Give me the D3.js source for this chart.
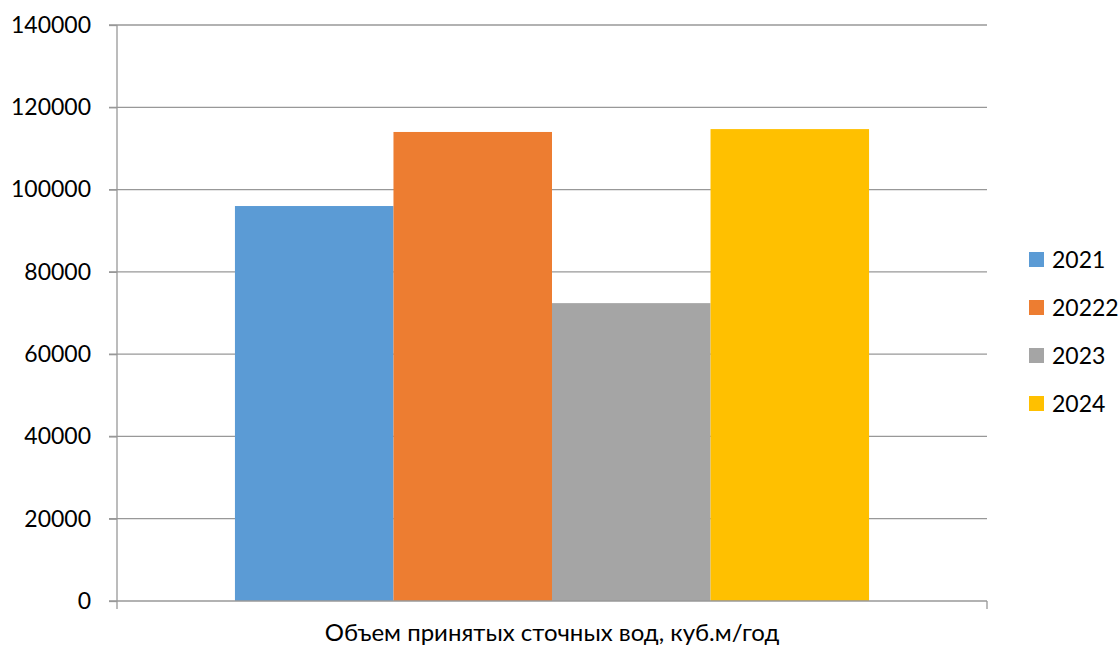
<!DOCTYPE html>
<html>
<head>
<meta charset="utf-8">
<script src="https://cdn.jsdelivr.net/npm/d3@7"></script>
<style>
  html, body { margin: 0; padding: 0; background: #fff; }
  svg { display: block; }
  text { font-family: Lato, "Open Sans", sans-serif; fill: #000; }
</style>
</head>
<body>
<svg id="chart" width="1119" height="646"></svg>
<script>
// Wastewater volume accepted per year
const categories = ["Объем принятых сточных вод, куб.м/год"];
const seriesNames = ["2021", "20222", "2023", "2024"];
const seriesValues = [96000, 114000, 72400, 114700];
const seriesColors = ["#5b9bd5", "#ed7d31", "#a5a5a5", "#ffc000"];
const yTicks = [0, 20000, 40000, 60000, 80000, 100000, 120000, 140000];

const svg = d3.select("#chart");
const plot = { left: 117, right: 987, top: 25, bottom: 601 };

const y = d3.scaleLinear().domain([0, 140000]).range([plot.bottom, plot.top]);
const x0 = d3.scaleBand().domain(categories).range([plot.left, plot.right])
  .paddingInner(0).paddingOuter(0.186);
const x1 = d3.scaleBand().domain(seriesNames).range([0, x0.bandwidth()]).padding(0);
const color = d3.scaleOrdinal().domain(seriesNames).range(seriesColors);

// horizontal gridlines
svg.append("g").selectAll("line").data(yTicks.filter(d => d > 0)).join("line")
  .attr("x1", plot.left - 8).attr("x2", plot.right)
  .attr("y1", d => y(d)).attr("y2", d => y(d))
  .attr("stroke", "#989898").attr("stroke-width", 1.3);

// bars
const rows = seriesNames.map((s, i) => ({ cat: categories[0], name: s, value: seriesValues[i] }));
svg.append("g").selectAll("rect").data(rows).join("rect")
  .attr("x", d => x0(d.cat) + x1(d.name))
  .attr("width", x1.bandwidth())
  .attr("y", d => y(d.value))
  .attr("height", d => y(0) - y(d.value))
  .attr("fill", d => color(d.name));

// y axis
const yAxis = d3.axisLeft(y).tickValues(yTicks).tickSize(8).tickPadding(18).tickFormat(d3.format("d"));
const gy = svg.append("g").attr("transform", `translate(${plot.left},0)`).call(yAxis);
gy.select(".domain").attr("stroke", "#989898").attr("stroke-width", 1.3)
  .attr("d", `M0,${plot.top}V${plot.bottom}`);
gy.selectAll(".tick line").attr("stroke", "#989898").attr("stroke-width", 1.3);
gy.selectAll(".tick text").attr("font-size", 23).attr("font-family", "Lato, sans-serif").attr("fill", "#000");

// x axis
const gx = svg.append("g").attr("transform", `translate(0,${plot.bottom})`);
gx.append("line").attr("x1", plot.left - 8).attr("x2", plot.right)
  .attr("stroke", "#989898").attr("stroke-width", 1.3);
gx.selectAll(".xt").data([plot.left, plot.right]).join("line").attr("class", "xt")
  .attr("x1", d => d).attr("x2", d => d).attr("y1", 0).attr("y2", 8)
  .attr("stroke", "#989898").attr("stroke-width", 1.3);
gx.selectAll(".cat").data(categories).join("text").attr("class", "cat")
  .attr("x", d => x0(d) + x0.bandwidth() / 2).attr("y", 40)
  .attr("text-anchor", "middle").attr("font-size", 24)
  .text(d => d);

// legend
const legend = svg.append("g").attr("transform", "translate(1029,252)");
const li = legend.selectAll("g").data(seriesNames).join("g")
  .attr("transform", (d, i) => `translate(0,${i * 48})`);
li.append("rect").attr("width", 15).attr("height", 15).attr("fill", d => color(d));
li.append("text").attr("x", 23).attr("y", 8).attr("dy", "0.35em")
  .attr("font-size", 23).text(d => d);
</script>
</body>
</html>
